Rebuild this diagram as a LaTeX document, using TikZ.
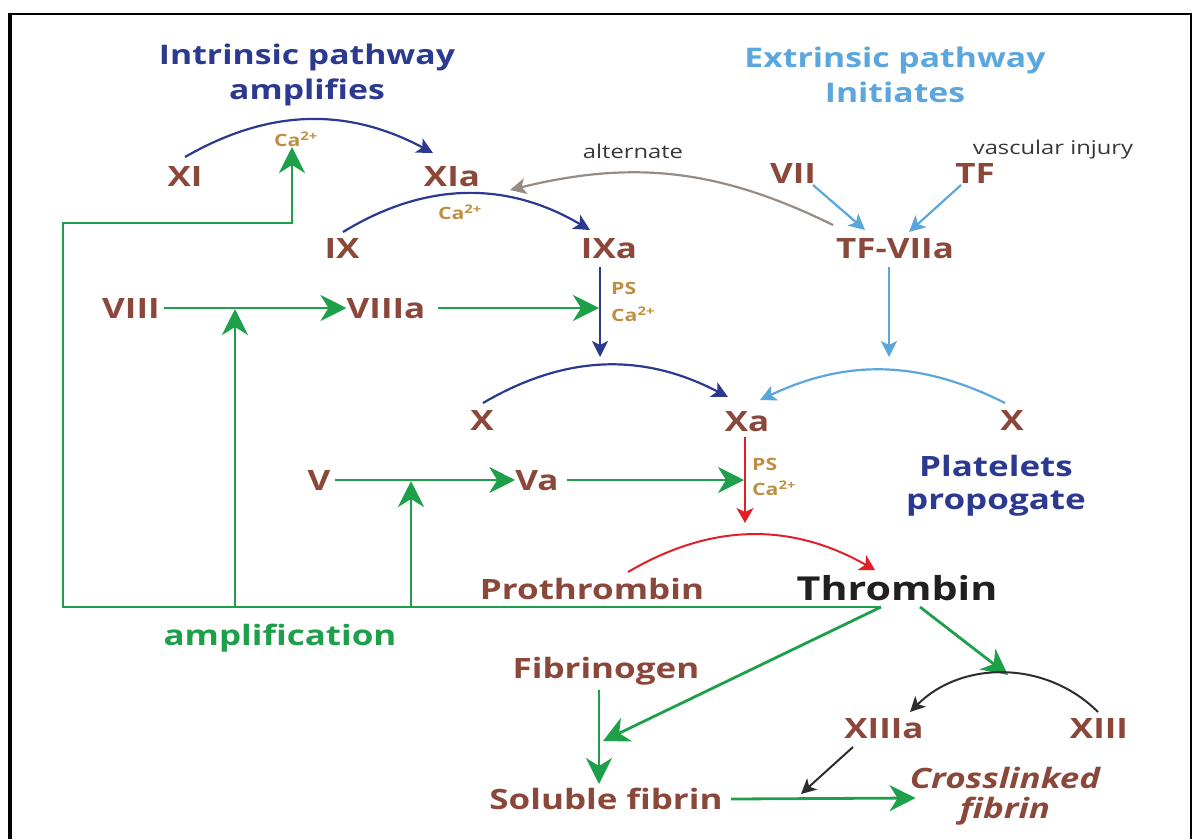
\documentclass[tikz,border=0pt]{standalone}
\usepackage{fontspec}
\setmainfont{Open Sans}[FakeStretch=1.25]
\usetikzlibrary{arrows.meta,calc}
\definecolor{brn}{RGB}{139,72,58}
\definecolor{thr}{RGB}{35,31,32}
\definecolor{dblue}{RGB}{43,57,144}
\definecolor{lblue}{RGB}{91,166,221}
\definecolor{grn}{RGB}{30,160,75}
\definecolor{gld}{RGB}{192,142,66}
\definecolor{rd}{RGB}{226,30,40}
\definecolor{gry}{RGB}{150,140,134}
\definecolor{blk}{RGB}{45,45,45}
\definecolor{txtgray}{RGB}{55,55,55}
\begin{document}
\begin{tikzpicture}[x=1pt,y=-1pt,
  lab/.style={font=\fontsize{28}{30}\selectfont\bfseries, text=brn, inner sep=0pt, text height=20pt, text depth=0pt},
  ttl/.style={font=\fontsize{27}{35}\selectfont\bfseries, align=center, inner sep=0pt},
  blk2/.style={font=\fontsize{28}{33}\selectfont\bfseries, align=center, inner sep=0pt},
  small/.style={font=\fontsize{17}{18}\selectfont\bfseries, text=gld, inner sep=0pt},
  note/.style={font=\fontsize{19}{20}\selectfont, text=txtgray, inner sep=0pt},
  garr/.style={draw=grn, line width=2.8pt, -{Stealth[length=26pt,width=26pt,inset=8pt]}},
  barr/.style={draw=dblue, line width=2.2pt, -{Stealth[length=16pt,width=16pt,inset=4pt]}},
  lbarr/.style={draw=lblue, line width=2.2pt, -{Stealth[length=16pt,width=16pt,inset=4pt]}},
  rarr/.style={draw=rd, line width=2pt, -{Stealth[length=15pt,width=17pt,inset=4pt]}},
  grarr/.style={draw=gry, line width=2.2pt, -{Stealth[length=16pt,width=16pt,inset=4pt]}},
  karr/.style={draw=blk, line width=2pt, -{Stealth[length=15pt,width=15pt,inset=4pt]}}
]
\useasboundingbox (0,0) rectangle (1194,839);
% frame
\draw[line width=4pt] (10,839) -- (10,13);
\draw[line width=2pt] (8,14) -- (1191,14) -- (1191,839);

% titles
\node[ttl, text=dblue] (intr) at (307,75) {Intrinsic pathway\\amplifies};
\node[ttl, text=lblue] (extr) at (895,75) {Extrinsic pathway\\Initiates};
\node[blk2, text=dblue] (plat) at (996,486) {Platelets\\propogate};

% factor labels
\node[lab] (XI) at (185,176) {XI};
\node[lab] (XIa) at (452,176) {XIa};
\node[lab] (IX) at (342,248) {IX};
\node[lab] (IXa) at (609,248) {IXa};
\node[lab] (VII) at (793,173) {VII};
\node[lab] (TF) at (975,173) {TF};
\node[lab] (TFVIIa) at (895,248) {TF-VIIa};
\node[lab] (VIII) at (131,308) {VIII};
\node[lab] (VIIIa) at (386,308) {VIIIa};
\node[lab] (Xl) at (482,420) {X};
\node[lab] (Xa) at (747,421) {Xa};
\node[lab] (Xr) at (1012,420) {X};
\node[lab] (V) at (319,480) {V};
\node[lab] (Va) at (537,480) {Va};
\node[lab] (Pro) at (592,589) {Prothrombin};
\node[lab, text=thr, font=\fontsize{33}{35}\selectfont\bfseries, text height=24pt] (Thr) at (897,588) {Thrombin};
\node[lab] (Fib) at (606,668) {Fibrinogen};
\node[lab] (Sol) at (606,799) {Soluble fibrin};
\node[lab] (XIIIa) at (884,728) {XIIIa};
\node[lab] (XIII) at (1099,728) {XIII};
\node[font=\fontsize{28}{30}\selectfont\bfseries\itshape, text=brn, align=center, inner sep=0pt] (CL) at (1005,796) {Crosslinked\\fibrin};
\node[font=\fontsize{28}{30}\selectfont\bfseries, text=grn, inner sep=0pt] (amp) at (280,638) {amplification};
\node[note] (alt) at (633,151) {alternate};
\node[note] (vi) at (1053,150) {vascular injury};

% cofactors
\node[small] (Ca1) at (296,139) {Ca\textsuperscript{2+}};
\node[small] (Ca2) at (460,212) {Ca\textsuperscript{2+}};
\node[small, anchor=west] (PS1) at (611,288) {PS};
\node[small, anchor=west] (Ca3) at (611,314) {Ca\textsuperscript{2+}};
\node[small, anchor=west] (PS2) at (752,464) {PS};
\node[small, anchor=west] (Ca4) at (752,488) {Ca\textsuperscript{2+}};

% junction coordinates
\coordinate (jb) at (599,308);
\coordinate (bEnd) at (600,357);
\coordinate (lbEnd) at (889,357);
\coordinate (jr) at (744,480);
\coordinate (rEnd) at (745,523);
\coordinate (t0) at ($(Thr.center)+(-16,19)$);
\coordinate (aBL) at (63,607);
\coordinate (aTL) at (63,223);
\coordinate (aTR) at (292,223);
\coordinate (a8) at (235,607);
\coordinate (j8) at (235,309);
\coordinate (a5) at (411,607);
\coordinate (j5) at (411,481);
\coordinate (xj) at (1008,675);
\coordinate (sj) at (801,794);

% intrinsic
\draw[barr] ($(XI.center)+(0,-19)$) to[bend left=29] ($(XIa.center)+(-19,-23)$);
\draw[barr] ($(IX.center)+(1,-16)$) to[bend left=31] ($(IXa.center)+(-19,-18)$);
\draw[grarr] ($(TFVIIa.center)+(-62,-23)$) to[bend right=20] ($(XIa.center)+(58,14)$);
\draw[lbarr] ($(VII.center)+(20,12)$) -- ($(TFVIIa.center)+(-30,-18)$);
\draw[lbarr] ($(TF.center)+(-14,12)$) -- ($(TFVIIa.center)+(14,-16)$);
\draw[garr] ($(VIII.east)+(4,0)$) -- (VIIIa.west);
\draw[garr] ($(VIIIa.east)+(12,0)$) -- (jb);
\draw[barr] ($(IXa.center)+(-9,19)$) -- (bEnd);
\draw[lbarr] ($(TFVIIa.center)+(-6,19)$) -- (lbEnd);
\draw[barr] ($(Xl.center)+(1,-17)$) to[bend left=29] ($(Xa.center)+(-19,-24)$);
\draw[lbarr] ($(Xr.center)+(-7,-17)$) to[bend right=26] ($(Xa.center)+(13,-21)$);
\draw[garr] ($(V.east)+(4,0)$) -- (Va.west);
\draw[garr] ($(Va.east)+(8,0)$) -- (jr);
\draw[rarr] ($(Xa.center)+(-2,16)$) -- (rEnd);
\draw[rarr] ($(Pro.center)+(36,-17)$) to[bend left=30] ($(Thr.center)+(-22,-18)$);

% amplification loop
\draw[garr] (t0) -- (aBL) -- (aTL) -- (aTR) -- ($(Ca1.center)+(-4,8)$);
\draw[garr] (a8) -- (j8);
\draw[garr] (a5) -- (j5);

% fibrin formation
\draw[garr] (t0) -- ($(Sol.center)+(-3,-58)$);
\draw[garr] ($(Fib.center)+(-7,22)$) -- ($(Sol.center)+(-7,-15)$);
\draw[garr] ($(Thr.center)+(23,19)$) -- (xj);
\draw[karr] ($(XIII.center)+(-1,-16)$) to[bend right=45] ($(XIIIa.center)+(26,-16)$);
\draw[karr] ($(XIIIa.center)+(-31,19)$) -- (sj);
\draw[garr] ($(Sol.east)+(8,0)$) -- ($(CL.west)+(6,2)$);
\end{tikzpicture}
\end{document}
